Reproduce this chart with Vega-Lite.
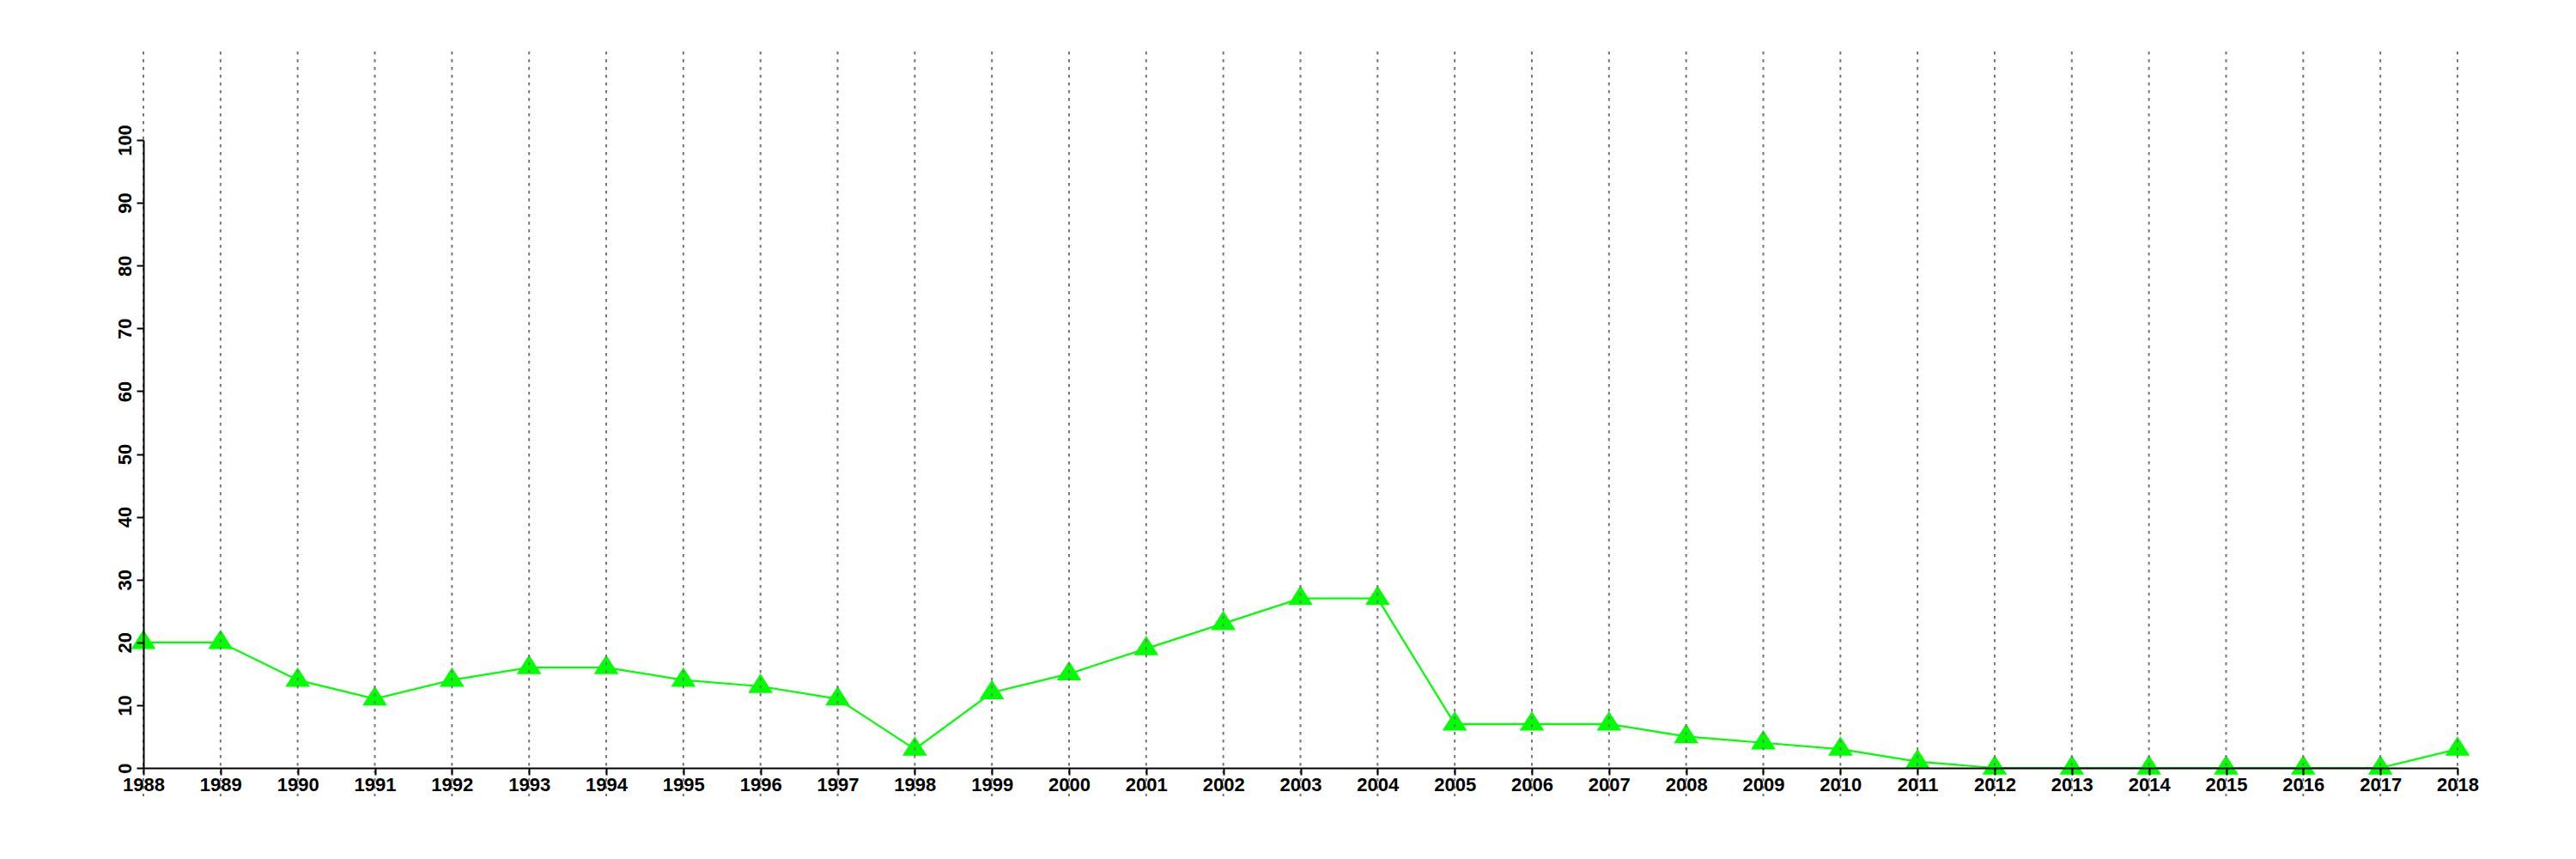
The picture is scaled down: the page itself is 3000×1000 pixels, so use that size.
{
  "$schema": "https://vega.github.io/schema/vega-lite/v6.json",
  "width": 2695,
  "height": 731,
  "autosize": "none",
  "padding": {"left": 167, "top": 163, "right": 138, "bottom": 106},
  "background": "white",
  "config": {"view": {"stroke": null}},
  "data": {"values": [
    {"year": 1988, "value": 20}, {"year": 1989, "value": 20}, {"year": 1990, "value": 14},
    {"year": 1991, "value": 11}, {"year": 1992, "value": 14}, {"year": 1993, "value": 16},
    {"year": 1994, "value": 16}, {"year": 1995, "value": 14}, {"year": 1996, "value": 13},
    {"year": 1997, "value": 11}, {"year": 1998, "value": 3}, {"year": 1999, "value": 12},
    {"year": 2000, "value": 15}, {"year": 2001, "value": 19}, {"year": 2002, "value": 23},
    {"year": 2003, "value": 27}, {"year": 2004, "value": 27}, {"year": 2005, "value": 7},
    {"year": 2006, "value": 7}, {"year": 2007, "value": 7}, {"year": 2008, "value": 5},
    {"year": 2009, "value": 4}, {"year": 2010, "value": 3}, {"year": 2011, "value": 1},
    {"year": 2012, "value": 0}, {"year": 2013, "value": 0}, {"year": 2014, "value": 0},
    {"year": 2015, "value": 0}, {"year": 2016, "value": 0}, {"year": 2017, "value": 0},
    {"year": 2018, "value": 3}
  ]},
  "encoding": {
    "x": {
      "field": "year", "type": "quantitative",
      "scale": {"domain": [1988, 2018], "nice": false, "zero": false},
      "axis": {
        "title": null, "grid": false, "zindex": 1,
        "values": [1988,1989,1990,1991,1992,1993,1994,1995,1996,1997,1998,1999,2000,2001,2002,2003,2004,2005,2006,2007,2008,2009,2010,2011,2012,2013,2014,2015,2016,2017,2018],
        "format": "d", "labelOverlap": false, "labelFlush": false,
        "labelFont": "Liberation Sans", "labelFontWeight": "bold", "labelFontSize": 22, "labelColor": "black",
        "labelBaseline": "top", "labelPadding": 1,
        "domainColor": "black", "domainWidth": 2, "tickColor": "black", "tickWidth": 2, "tickSize": 8
      }
    },
    "y": {
      "field": "value", "type": "quantitative",
      "scale": {"domain": [0, 100], "nice": false},
      "axis": {
        "title": null, "grid": false, "zindex": 1,
        "values": [0,10,20,30,40,50,60,70,80,90,100],
        "labelAngle": -90, "labelAlign": "center", "labelBaseline": "alphabetic", "labelPadding": 7,
        "labelOverlap": false, "labelFlush": false,
        "labelFont": "Liberation Sans", "labelFontWeight": "bold", "labelFontSize": 22, "labelColor": "black",
        "domainColor": "black", "domainWidth": 2, "tickColor": "black", "tickWidth": 2, "tickSize": 8
      }
    }
  },
  "layer": [
    {"mark": {"type": "line", "color": "#00ff00", "strokeWidth": 2.2}},
    {"mark": {"type": "point", "shape": "M0,-1.04L1,0.54L-1,0.54Z", "filled": true, "color": "#00ff00", "opacity": 1, "size": 820}},
    {
      "mark": {"type": "rule", "color": "#777777", "strokeWidth": 2, "strokeDash": [3.5, 5.5]},
      "encoding": {
        "y": {"datum": 114.1},
        "y2": {"datum": -4.5}
      }
    }
  ]
}
